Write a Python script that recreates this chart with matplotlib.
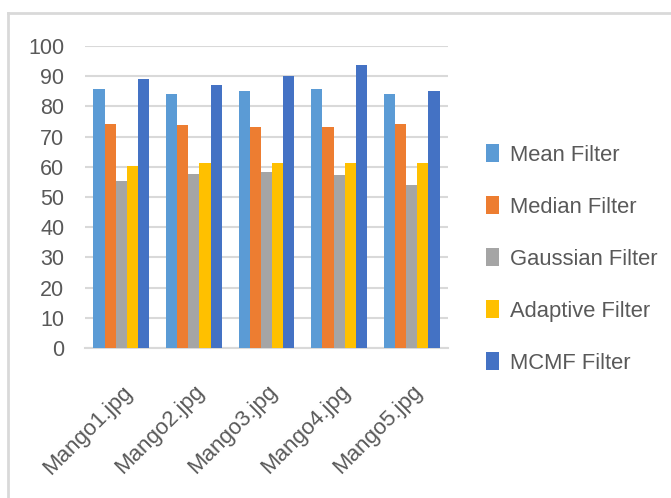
import matplotlib.pyplot as plt
from matplotlib.lines import Line2D
import numpy as np

plt.rcParams['font.family'] = ['Liberation Sans', 'DejaVu Sans']

images = ['Mango1.jpg', 'Mango2.jpg', 'Mango3.jpg', 'Mango4.jpg', 'Mango5.jpg']
filters = ['Mean Filter', 'Median Filter', 'Gaussian Filter', 'Adaptive Filter', 'MCMF Filter']
mean_f = [85.7, 84.2, 85.2, 85.7, 84.2]
median_f = [74.2, 73.7, 73.3, 73.3, 74.3]
gaussian_f = [55.4, 57.7, 58.2, 57.3, 54.0]
adaptive_f = [60.2, 61.2, 61.2, 61.2, 61.2]
mcmf_f = [89.2, 87.2, 90.1, 93.7, 85.2]
colors = ['#5B9BD5', '#ED7D31', '#A5A5A5', '#FFC000', '#4472C4']

series = [mean_f, median_f, gaussian_f, adaptive_f, mcmf_f]
txt = '#595959'

fig = plt.figure(figsize=(6.71, 4.98), dpi=100)
ax = fig.add_axes([85/671, 150/498, 363/671, 302/498])

x = np.arange(len(images))
w = 0.154
for i, (vals, name) in enumerate(zip(series, filters)):
    ax.bar(x + (i - 2) * w, vals, w, color=colors[i], label=name, zorder=3)

ax.set_xlim(-0.5, len(images) - 0.5)
ax.set_ylim(0, 100)
ax.set_yticks(range(0, 101, 10))
ax.yaxis.grid(True, color='#d9d9d9', linewidth=1.5, zorder=0)
for s in ['top', 'right', 'left']:
    ax.spines[s].set_visible(False)
ax.spines['bottom'].set_color('#d9d9d9')
ax.spines['bottom'].set_linewidth(1.5)
ax.tick_params(axis='y', length=0, labelsize=15.5, colors=txt, pad=15)
ax.tick_params(axis='x', length=0, labelsize=16, colors=txt, pad=24)
ax.set_xticks(x)
ax.set_xticklabels(images, rotation=45, ha='right', rotation_mode='anchor')

ax.legend(loc='center left', bbox_to_anchor=(1.05, 0.295), frameon=False,
          fontsize=15.8, labelcolor=txt, handlelength=0.6, handleheight=0.9,
          handletextpad=0.5, labelspacing=1.38)

# chart area border
fig.add_artist(Line2D([8/671, 1], [1 - 13/498, 1 - 13/498], color='#d9d9d9', linewidth=2,
                      transform=fig.transFigure))
fig.add_artist(Line2D([8/671, 8/671], [0, 1 - 13/498], color='#d9d9d9', linewidth=2,
                      transform=fig.transFigure))

fig.savefig('out.png', dpi=100)
